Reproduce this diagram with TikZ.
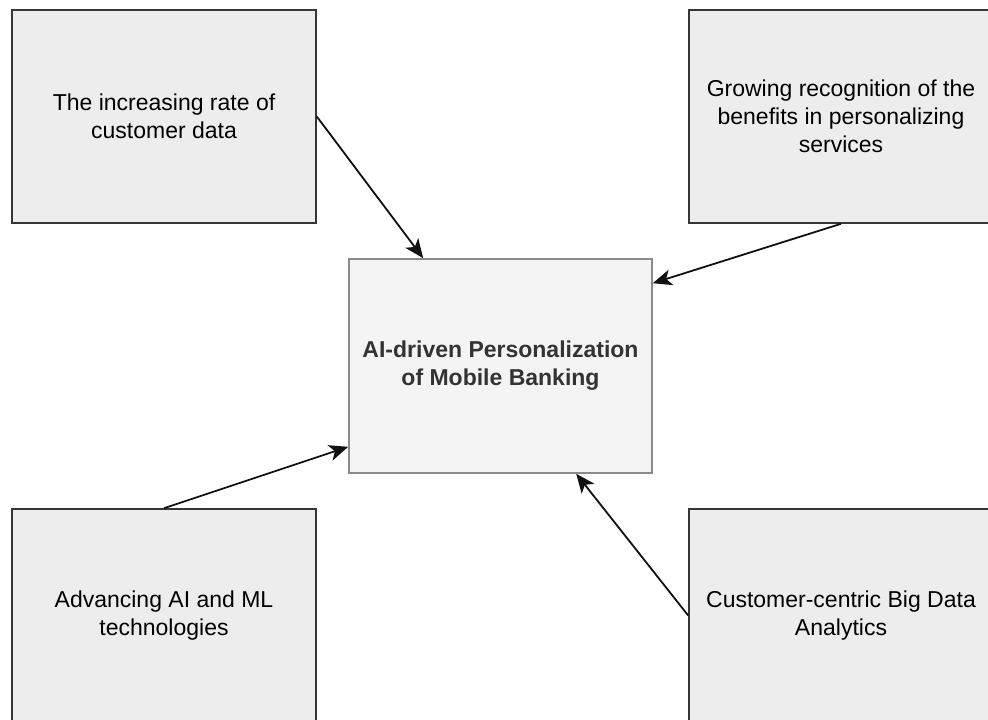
\documentclass[tikz,border=0pt]{standalone}
\usepackage{fontspec}
\setmainfont{Liberation Sans}
\usetikzlibrary{arrows.meta,calc}
\definecolor{outerfill}{HTML}{EDEDED}
\definecolor{outerline}{HTML}{363636}
\definecolor{centerfill}{HTML}{F4F4F4}
\definecolor{centerline}{HTML}{8A8A8A}
\definecolor{centertext}{HTML}{333333}
\definecolor{arrowcol}{HTML}{111111}
\begin{document}
\begin{tikzpicture}[x=1pt,y=-1pt,
  outerbox/.style={draw=outerline, fill=outerfill, line width=1.6pt,
    minimum width=304pt, minimum height=213pt, inner sep=0pt, align=center,
    font=\fontsize{23}{28}\selectfont, text=black},
  centerbox/.style={draw=centerline, fill=centerfill, line width=1.6pt,
    minimum width=303pt, minimum height=214pt, inner sep=0pt, align=center,
    font=\bfseries\fontsize{23}{28}\selectfont, text=centertext},
  conn/.style={draw=arrowcol, line width=1.8pt,
    -{Stealth[length=19pt,width=16pt,inset=5pt]}}]
\useasboundingbox (0,0) rectangle (988,720);
\clip (0,0) rectangle (988,720);
\node[outerbox] (tl) at (164,116.5) {The increasing rate of\\customer data};
\node[outerbox] (tr) at (841,116.5) {Growing recognition of the\\benefits in personalizing\\services};
\node[outerbox] (bl) at (164,615.5) {Advancing AI and ML\\technologies};
\node[outerbox] (br) at (841,615.5) {Customer-centric Big Data\\Analytics};
\node[centerbox] (c) at (500.5,366) {AI-driven Personalization\\of Mobile Banking};
\draw[conn] (tl.east) -- ($(c.north west)+(75,0)$);
\draw[conn] (tr.south) -- ($(c.north east)+(0,25)$);
\draw[conn] (bl.north) -- ($(c.south west)+(0,-27)$);
\draw[conn] (br.west) -- ($(c.south west)+(228,0)$);
\end{tikzpicture}
\end{document}
